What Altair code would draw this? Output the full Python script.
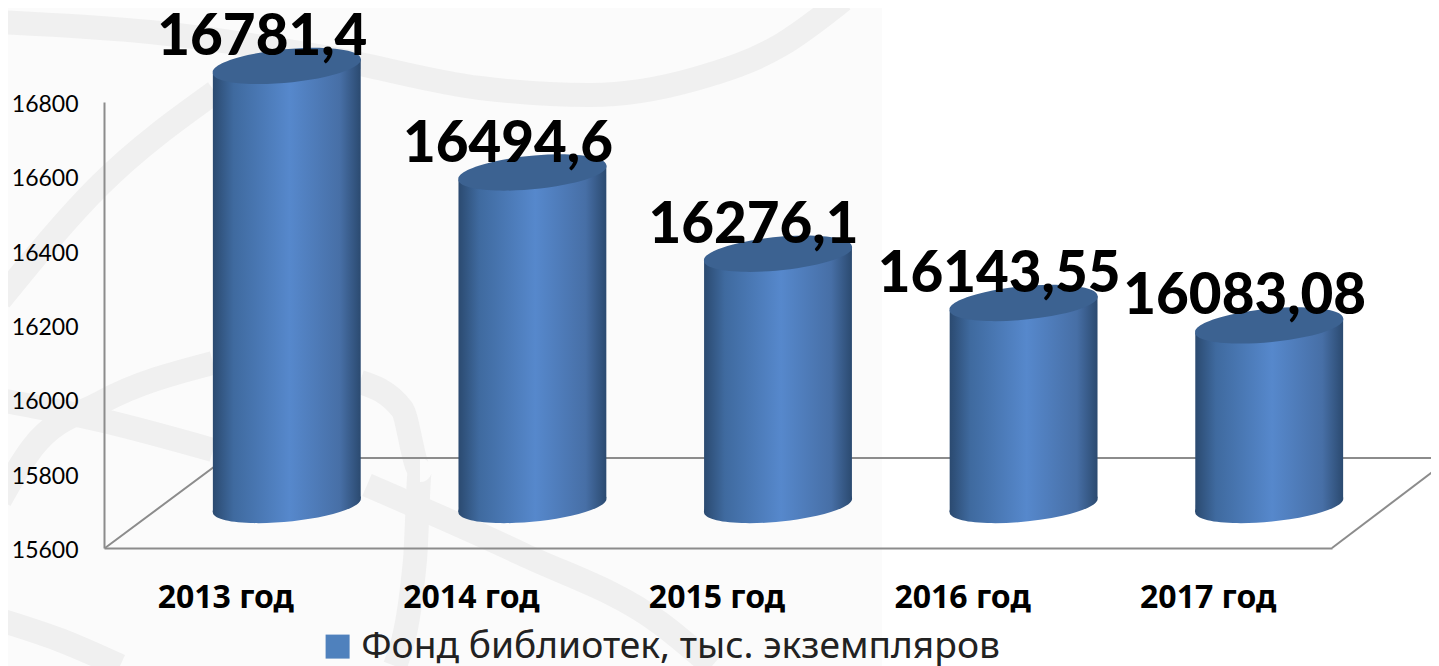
import altair as alt
import pandas as pd

years = ["2013 год", "2014 год", "2015 год", "2016 год", "2017 год"]
values = [16781.4, 16494.6, 16276.1, 16143.55, 16083.08]
labels = ["16781,4", "16494,6", "16276,1", "16143,55", "16083,08"]
y_ticks = [15600, 15800, 16000, 16200, 16400, 16600, 16800]
legend_name = "Фонд библиотек, тыс. экземпляров"

PW, PH = 1228, 446
PL, PT = 96, 94
TILT = 18.8   # value units of the slope of a cylinder end
HALF = 0.301  # half a cylinder in category units
BASE = 15600

def px_x():
    return alt.Scale(domain=[0, 1439], range=[-PL - 8, 1439 - PL - 8])
def px_y():
    return alt.Scale(domain=[0, 666], range=[-PT - 8, 666 - PT - 8])

# decorative watermark and 3D floor, in picture pixels
paper = pd.DataFrame({"x": [8], "x2": [882], "y": [8], "y2": [666]})
swooshes = [
    [(0, 22), (150, 32), (330, 58), (480, 88), (590, 95), (695, 79), (781, 45), (843, 0)],
    [(0, 300), (100, 185), (215, 92)],
    [(213, 363), (100, 403), (33, 447), (0, 500)],
    [(0, 400), (100, 420), (213, 450)],
    [(360, 382), (402, 409), (420, 470), (415, 560), (395, 666)],
    [(367, 485), (522, 554), (660, 623), (712, 666)],
    [(0, 620), (60, 640), (120, 666)],
]
sw_rows = [dict(s=i, o=j, x=p[0], y=p[1]) for i, s in enumerate(swooshes) for j, p in enumerate(s)]
frame_lines = [
    [(105, 548), (226, 458), (1439, 458)],
    [(1332, 548), (1439, 467)],
]
fr_rows = [dict(s=i, o=j, x=p[0], y=p[1]) for i, s in enumerate(frame_lines) for j, p in enumerate(s)]

bg = alt.Chart(paper).mark_rect(color="#fbfbfb").encode(
    x=alt.X("x:Q", scale=px_x(), axis=None), x2="x2:Q",
    y=alt.Y("y:Q", scale=px_y(), axis=None), y2="y2:Q")
sw = alt.Chart(pd.DataFrame(sw_rows)).mark_line(color="#f0f0f0", strokeWidth=24, interpolate="monotone").encode(
    x=alt.X("x:Q", scale=px_x(), axis=None),
    y=alt.Y("y:Q", scale=px_y(), axis=None), detail="s:N", order="o:Q")
fr = alt.Chart(pd.DataFrame(fr_rows)).mark_line(color="#8c8c8c", strokeWidth=2).encode(
    x=alt.X("x:Q", scale=px_x(), axis=None),
    y=alt.Y("y:Q", scale=px_y(), axis=None), detail="s:N", order="o:Q")

# axes and legend
tbl = pd.DataFrame({"year": years, "value": values, "label": labels, "i": range(5), "series": [legend_name] * 5})
axes = alt.Chart(tbl).mark_bar(opacity=0).encode(
    x=alt.X("year:N", sort=years, title=None, scale=alt.Scale(paddingInner=0, paddingOuter=0),
            axis=alt.Axis(labelAngle=0, labelFont="Noto Sans", labelFontWeight="bold", labelFontSize=32,
                          labelColor="#000000", domainColor="#8c8c8c", domainWidth=2, ticks=False,
                          labelPadding=34, labelOffset=-1, grid=False, zindex=1)),
    y=alt.Y("value:Q", title=None, scale=alt.Scale(domain=[15600, 16800], nice=False),
            axis=alt.Axis(values=y_ticks, labelFont="Lato", labelFontSize=23, labelColor="#000000",
                          domainColor="#8c8c8c", domainWidth=2, ticks=False, labelPadding=26,
                          labelOffset=2.5, grid=False, format="d", zindex=1)),
    color=alt.Color("series:N", scale=alt.Scale(range=["#4f81bd"]),
                    legend=alt.Legend(title=None, orient="none", legendX=215, legendY=526,
                                      symbolType="square", symbolSize=576, symbolOpacity=1,
                                      symbolStrokeWidth=0, labelFont="Noto Sans", labelFontSize=37.2,
                                      labelColor="#222222", labelLimit=800, labelOffset=5)),
)

# cylinders, on scales shifted like the 3D projection of the source
def cx():
    return alt.Scale(domain=[0, 5], range=[60, PW + 60], nice=False, zero=False)
def cy():
    return alt.Scale(domain=[15600, 16800], range=[PH - 43, -43], nice=False, zero=False)

gradient = alt.Gradient(gradient="linear", x1=0, x2=1, y1=0, y2=0, stops=[
    alt.GradientStop(offset=0, color="#2b4a70"),
    alt.GradientStop(offset=0.14, color="#3f6a9f"),
    alt.GradientStop(offset=0.52, color="#5688cc"),
    alt.GradientStop(offset=0.86, color="#476fa6"),
    alt.GradientStop(offset=1, color="#2b4a70"),
])
rows = []
for k, v in enumerate(values):
    rows.append(dict(year=years[k], xp=k + 0.5 - HALF, top=v - TILT, bot=BASE - TILT))
    rows.append(dict(year=years[k], xp=k + 0.5 + HALF, top=v + TILT, bot=BASE + TILT))
body = alt.Chart(pd.DataFrame(rows)).mark_area(fill=gradient, clip=False).encode(
    x=alt.X("xp:Q", scale=cx(), axis=None),
    y=alt.Y("top:Q", scale=cy(), axis=None), y2="bot:Q", detail="year:N")

tbl["c"] = tbl["i"] + 0.5
tbl["base"] = BASE
ELL = "M-1,0.096 A1.005,0.22,-5.5,1,1,1,-0.096 A1.005,0.22,-5.5,1,1,-1,0.096 Z"
SIZE = 148 ** 2
bottom = alt.Chart(tbl).mark_point(shape=ELL, size=SIZE, fill=gradient, filled=True, opacity=1, strokeWidth=0).encode(
    x=alt.X("c:Q", scale=cx(), axis=None),
    y=alt.Y("base:Q", scale=cy(), axis=None))
cap = alt.Chart(tbl).mark_point(shape=ELL, size=SIZE, fill="#3c6291", filled=True, opacity=1, strokeWidth=0).encode(
    x=alt.X("c:Q", scale=cx(), axis=None),
    y=alt.Y("value:Q", scale=cy(), axis=None))
text = alt.Chart(tbl).mark_text(font="Lato", fontWeight=900, fontSize=56.5, color="#000000",
                                dx=-24.5, dy=-11, baseline="alphabetic", align="center").encode(
    x=alt.X("c:Q", scale=cx(), axis=None),
    y=alt.Y("value:Q", scale=cy(), axis=None),
    text="label:N")

chart = alt.layer(bg, sw, fr, axes, bottom, body, cap, text).resolve_scale(
    x="independent", y="independent"
).properties(
    width=PW, height=PH,
    padding={"left": PL, "top": PT, "right": 1423 - PL - PW, "bottom": 658 - PT - PH},
    autosize=alt.AutoSizeParams(type="none"),
    background="#ffffff",
).configure_view(stroke=None)

chart.save("out.html", embed_options={"renderer": "svg", "actions": False})
